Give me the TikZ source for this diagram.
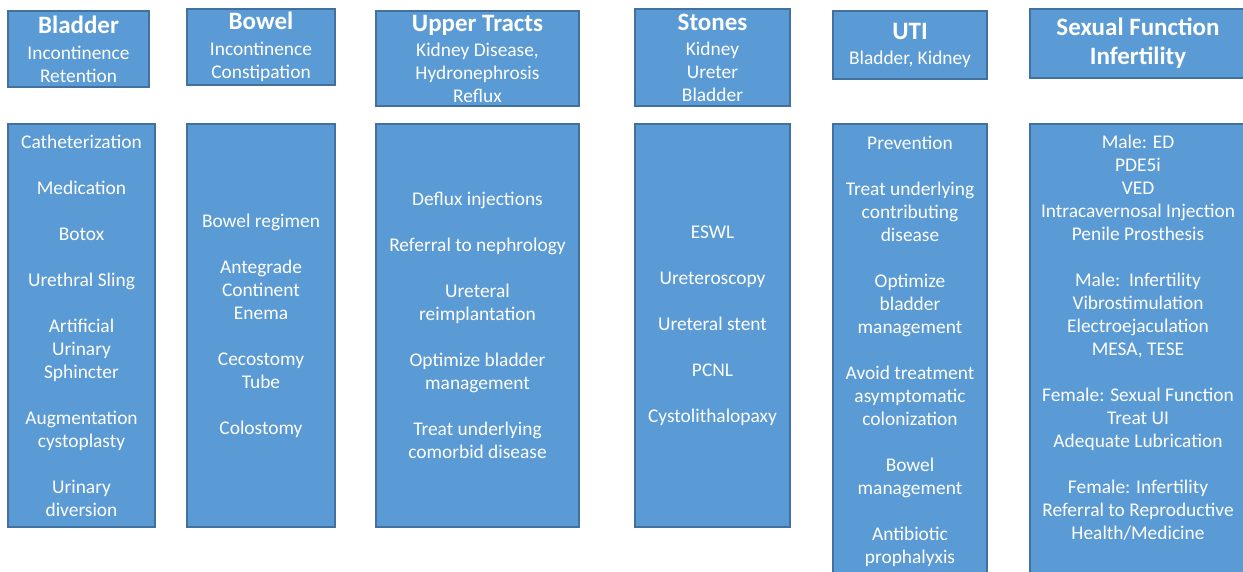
\documentclass[tikz,border=0pt]{standalone}
\usepackage{fontspec}
\setmainfont{Carlito}
\usepackage{xcolor}
\definecolor{cellblue}{HTML}{5B9BD5}
\definecolor{celledge}{HTML}{41719C}
\newcommand{\gap}{23pt}
\newcommand{\headfont}{\fontsize{25}{27}\selectfont\bfseries}

\begin{document}
\begin{tikzpicture}[x=1pt, y=-1pt,
  cell/.style={draw=celledge, fill=cellblue, line width=1.2pt, text=white, align=center, inner sep=0pt, font=\fontsize{19.4}{23}\selectfont},
  plain/.style={text=white, align=center, inner sep=0pt, font=\fontsize{19.4}{23}\selectfont}]
\useasboundingbox (0,0) rectangle (1243,571);
\node[cell, minimum width=141pt, minimum height=76pt] (bladderHead) at (78.5,49) {{\headfont Bladder}\\[3pt]Incontinence\\Retention};
\node[cell, minimum width=148pt, minimum height=76pt] (bowelHead) at (261,47) {{\headfont Bowel}\\[3pt]Incontinence\\Constipation};
\node[cell, minimum width=203pt, minimum height=95pt] (upperHead) at (477.5,58.5) {{\headfont Upper Tracts}\\[2pt]Kidney Disease,\\Hydronephrosis\\Reflux};
\node[cell, minimum width=155pt, minimum height=97pt] (stonesHead) at (712.5,57.5) {{\headfont Stones}\\[2pt]Kidney\\Ureter\\Bladder};
\node[cell, minimum width=154pt, minimum height=68pt] (utiHead) at (910,45) {{\headfont UTI}\\[2pt]Bladder, Kidney};
\node[cell, minimum width=216pt, minimum height=69pt] (sexHead) at (1138,43.5) {{\headfont Sexual Function}\\[6pt]{\headfont Infertility}};
\node[cell, minimum width=147pt, minimum height=403pt] (bladderList) at (81.5,325.5) {Catheterization\\[\gap]Medication\\[\gap]Botox\\[\gap]Urethral Sling\\[\gap]Artificial\\Urinary\\Sphincter\\[\gap]Augmentation\\cystoplasty\\[\gap]Urinary\\diversion};
\node[cell, minimum width=148pt, minimum height=403pt] (bowelList) at (261,325.5) {Bowel regimen\\[\gap]Antegrade\\Continent\\Enema\\[\gap]Cecostomy\\Tube\\[\gap]Colostomy};
\node[cell, minimum width=203pt, minimum height=403pt] (upperList) at (477.5,325.5) {Deflux injections\\[\gap]Referral to nephrology\\[\gap]Ureteral\\reimplantation\\[\gap]Optimize bladder\\management\\[\gap]Treat underlying\\comorbid disease};
\node[cell, minimum width=155pt, minimum height=403pt] (stonesList) at (712.5,325.5) {ESWL\\[\gap]Ureteroscopy\\[\gap]Ureteral stent\\[\gap]PCNL\\[\gap]Cystolithalopaxy};
\node[cell, minimum width=154pt, minimum height=455pt] (utiList) at (910,351.5) {Prevention\\[\gap]Treat underlying\\contributing\\disease\\[\gap]Optimize\\bladder\\management\\[\gap]Avoid treatment\\asymptomatic\\colonization\\[\gap]Bowel\\management\\[\gap]Antibiotic\\prophalyxis};
\node[cell, minimum width=216pt, minimum height=496pt] (sexList) at (1138,372) {};
\node[plain, anchor=north] (sexText) at (1138,135) {Male: ED\\PDE5i\\VED\\Intracavernosal Injection\\Penile Prosthesis\\[\gap]Male:\ \ Infertility\\Vibrostimulation\\Electroejaculation\\MESA, TESE\\[\gap]Female: Sexual Function\\Treat UI\\Adequate Lubrication\\[\gap]Female: Infertility\\Referral to Reproductive\\Health/Medicine};
\end{tikzpicture}
\end{document}
